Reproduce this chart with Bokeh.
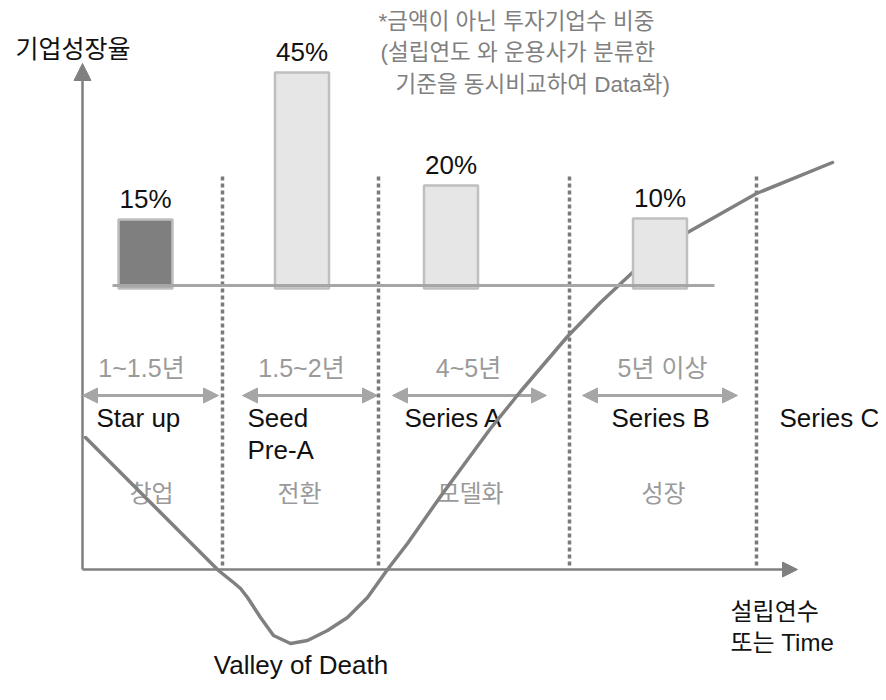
from bokeh.plotting import figure
from bokeh.models import Range1d, Arrow, NormalHead, ColumnDataSource
from bokeh.core.properties import value
from bokeh.embed import file_html
from bokeh.resources import INLINE

# ---------------- data ----------------
share_labels = ["15%", "45%", "20%", "10%"]          # 투자기업수 비중
share_values = [15, 45, 20, 10]
bar_heights = [66, 213, 100, 67]                       # drawn bar heights as pictured (chart units)
year_ranges = ["1~1.5년", "1.5~2년", "4~5년", "5년 이상"]
phase_names = ["창업", "전환", "모델화", "성장"]
stage_names = ["Star up", "Seed\nPre-A", "Series A", "Series B", "Series C"]
footnote = ["*금액이 아닌 투자기업수 비중",
            "(설립연도 와 운용사가 분류한",
            "기준을 동시비교하여 Data화)"]
y_title = "기업성장율"
x_title = ["설립연수", "또는 Time"]
valley_label = "Valley of Death"

# growth curve (time vs growth, chart units, origin at the axes' corner)
curve_t = [3, 136, 151, 158, 165, 178, 191, 208, 225, 245, 265, 285, 305, 325,
           358, 408, 438, 485, 518, 550, 605, 674, 750]
curve_growth = [132, -1, -13, -19, -28, -48, -66, -74, -71, -61, -48, -28, 0, 26,
                73, 141, 178, 233, 267, 297, 337, 376, 407]

# ---------------- layout ----------------
W, H = 878, 684
AX, AY = 82, 569          # pixel position of the axes corner inside the figure
LATIN = "Liberation Sans, Noto Sans CJK KR"
KR = "Noto Sans CJK KR"

p = figure(width=W, height=H, output_backend="svg", toolbar_location=None,
           x_range=Range1d(-AX, W - AX), y_range=Range1d(AY - H, AY),
           x_axis_location=None, y_axis_location=None, min_border=0,
           outline_line_color=None, background_fill_color="white")
p.grid.visible = False

AXIS_C = "#808080"
LIGHT = "#a6a6a6"
TXT_GRAY = "#9a9a9a"

# axes with arrow heads
p.add_layout(Arrow(end=NormalHead(size=17, fill_color=AXIS_C, line_color=AXIS_C),
                   x_start=0, y_start=0, x_end=0, y_end=506,
                   line_color=AXIS_C, line_width=2.5, level="underlay"))
p.add_layout(Arrow(end=NormalHead(size=15, fill_color=AXIS_C, line_color=AXIS_C),
                   x_start=0, y_start=0, x_end=715, y_end=0,
                   line_color=AXIS_C, line_width=2.5, level="underlay"))

# dotted stage boundaries
bounds = [140, 296, 487, 674]
p.segment(x0=bounds, x1=bounds, y0=[4] * 4, y1=[393] * 4,
          line_color="#7a7a7a", line_width=3.5, line_dash="4 3")

# stage double-arrows
arrow_spans = [(0, 136), (160, 295), (310, 464), (500, 655)]
for a, b in arrow_spans:
    p.add_layout(Arrow(start=NormalHead(size=15, fill_color=LIGHT, line_color=LIGHT),
                       end=NormalHead(size=15, fill_color=LIGHT, line_color=LIGHT),
                       x_start=a, y_start=174, x_end=b, y_end=174,
                       line_color=LIGHT, line_width=3, level="underlay"))

# year ranges
p.text(x=[59, 219, 386, 580], y=[202] * 4, text=year_ranges,
       text_font=value(LATIN), text_font_size="25px", text_color=TXT_GRAY,
       text_align="center", text_baseline="alphabetic")

# stage names
p.text(x=[14, 165, 322, 529, 697], y=[167] * 5, text=stage_names,
       text_font=value(LATIN), text_font_size="26px", text_color="#111111",
       text_align="left", text_baseline="top", text_line_height=1.07)

# phase names
p.text(x=[69, 217, 388, 581], y=[78] * 4, text=phase_names,
       text_font=value(KR), text_font_size="24px", text_color=TXT_GRAY,
       text_align="center", text_baseline="middle")

# axis titles
p.text(x=[-67], y=[523], text=[y_title], text_font=value(KR), text_font_size="25px",
       text_color="#111111", text_align="left", text_baseline="middle")
p.text(x=[648, 648], y=[-42, -73], text=x_title, text_font=value(LATIN),
       text_font_size="24px", text_color="#111111", text_align="left",
       text_baseline="middle")

# footnote
p.text(x=[296, 298, 313], y=[548, 517, 485], text=footnote, text_font=value(LATIN),
       text_font_size="22.5px", text_color="#808080", text_align="left",
       text_baseline="middle")

# valley label
p.text(x=[218.5], y=[-95], text=[valley_label], text_font=value(LATIN),
       text_font_size="26px", text_color="#111111", text_align="center",
       text_baseline="alphabetic")

# growth curve
p.line(curve_t, curve_growth, line_color=AXIS_C, line_width=3.5,
       line_join="round", line_cap="round")

# bars (inset chart)
base = 284
bar_x = [63, 219.5, 368.5, 577.5]
bars = ColumnDataSource(dict(
    x=bar_x,
    top=[base + h for h in bar_heights],
    fill=["#7f7f7f", "#e6e6e6", "#e6e6e6", "#e6e6e6"],
    label=share_labels,
))
p.vbar(x="x", top="top", bottom=base - 3, width=54, source=bars,
       fill_color="fill", line_color="#bfbfbf", line_width=2.5)
p.segment(x0=[30], x1=[632], y0=[base], y1=[base], line_color=LIGHT, line_width=3)
p.text(x="x", y="top", text="label", source=bars, y_offset=-21,
       text_font=value(LATIN), text_font_size="26px", text_color="#111111",
       text_align="center", text_baseline="alphabetic")

open("out.html", "w").write(file_html(p, INLINE))
